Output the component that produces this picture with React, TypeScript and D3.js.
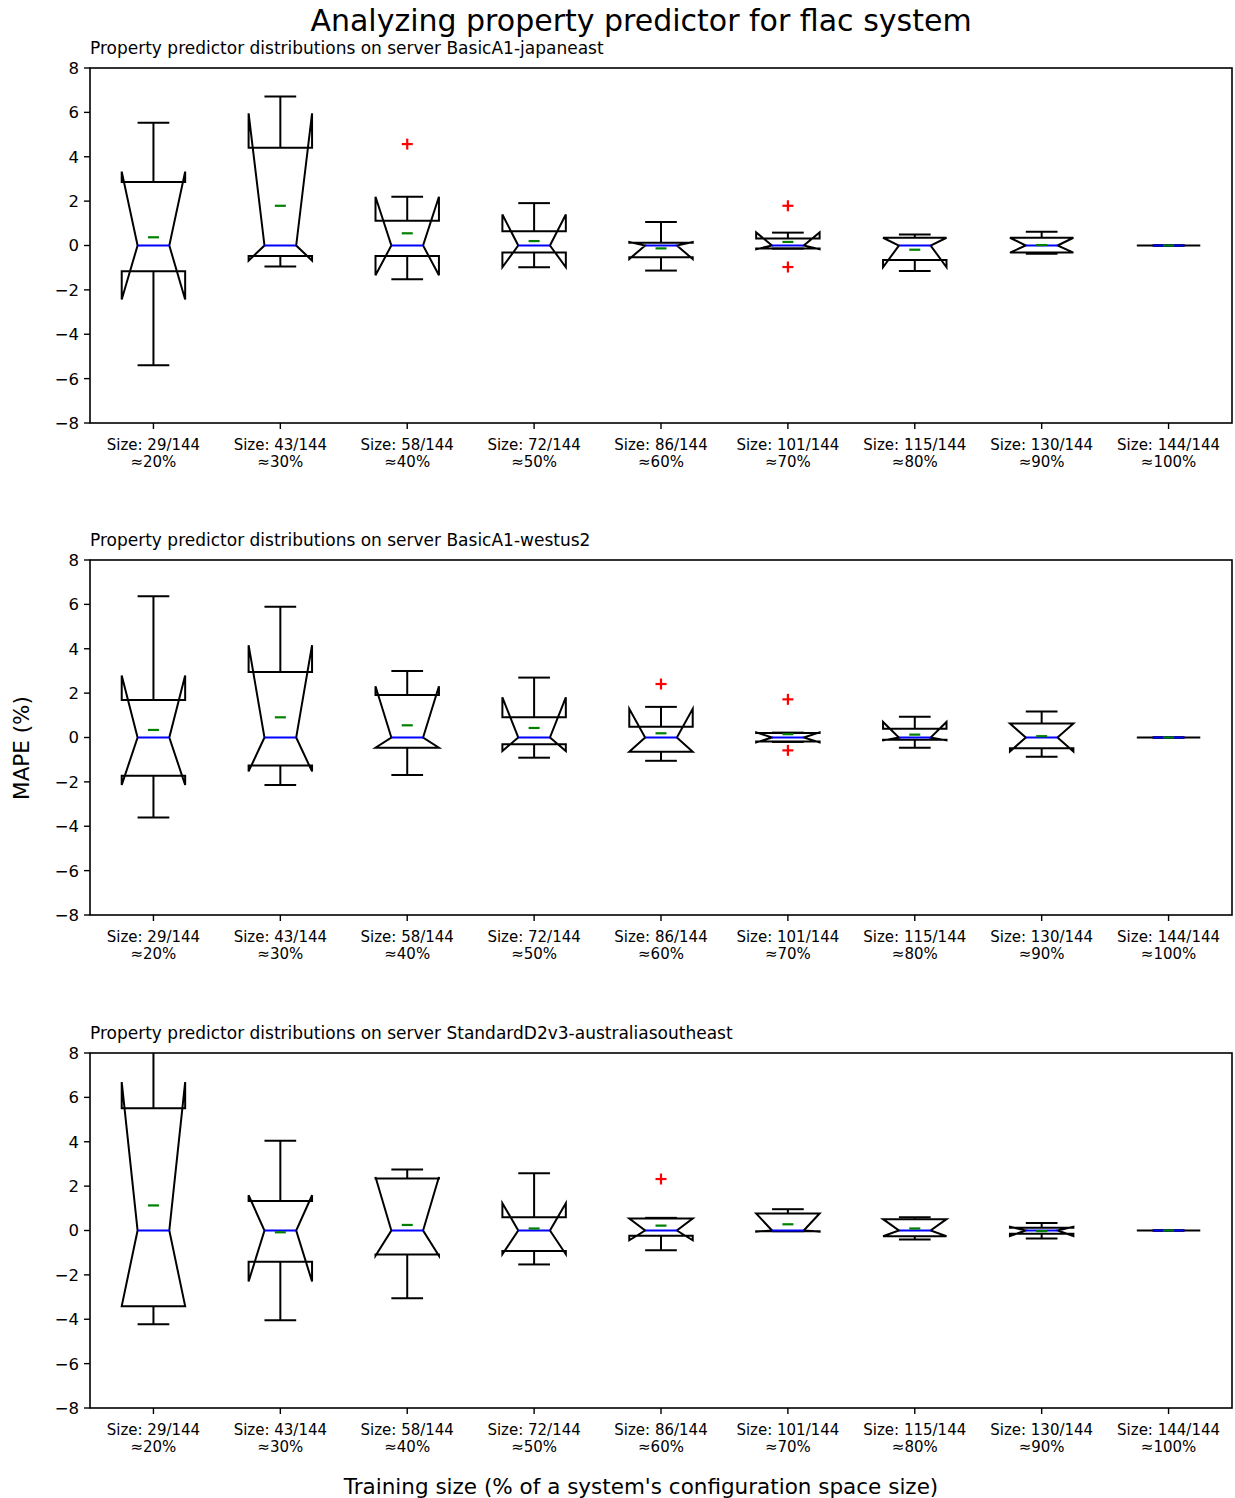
import React from 'react';
import * as d3 from 'd3';

const sizeLabels = ['Size: 29/144', 'Size: 43/144', 'Size: 58/144', 'Size: 72/144', 'Size: 86/144',
  'Size: 101/144', 'Size: 115/144', 'Size: 130/144', 'Size: 144/144'];
const pctLabels = ['≈20%', '≈30%', '≈40%', '≈50%', '≈60%', '≈70%', '≈80%', '≈90%', '≈100%'];
const yTicks = [-8, -6, -4, -2, 0, 2, 4, 6, 8];

const panelTitles = [
  'Property predictor distributions on server BasicA1-japaneast',
  'Property predictor distributions on server BasicA1-westus2',
  'Property predictor distributions on server StandardD2v3-australiasoutheast',
];

// each box: [whiskerLo, q1, notchLo, median, notchHi, q3, whiskerHi, mean]
const japaneastStats = [
  [-5.40, -1.16, -2.43, 0, 3.33, 2.86, 5.53, 0.37],
  [-0.95, -0.47, -0.68, 0, 5.96, 4.41, 6.71, 1.79],
  [-1.52, -0.47, -1.34, 0, 2.20, 1.12, 2.20, 0.55],
  [-0.98, -0.31, -0.98, 0, 1.40, 0.64, 1.91, 0.20],
  [-1.13, -0.53, -0.61, 0, 0.16, 0.12, 1.06, -0.13],
  [-0.14, -0.14, -0.17, 0, 0.59, 0.32, 0.58, 0.16],
  [-1.15, -0.65, -0.98, 0, 0.35, 0.35, 0.50, -0.19],
  [-0.37, -0.32, -0.32, 0, 0.35, 0.35, 0.62, 0.02],
  [0, 0, 0, 0, 0, 0, 0, 0],
];
const japaneastOutliers = [[], [], [4.57], [], [], [1.79, -0.97], [], [], []];

const westus2Stats = [
  [-3.60, -1.72, -2.14, 0, 2.79, 1.69, 6.37, 0.34],
  [-2.14, -1.26, -1.53, 0, 4.16, 2.95, 5.89, 0.91],
  [-1.69, -0.46, -0.46, 0, 2.31, 1.92, 3.00, 0.55],
  [-0.91, -0.30, -0.61, 0, 1.81, 0.91, 2.70, 0.43],
  [-1.05, -0.64, -0.64, 0, 1.29, 0.49, 1.38, 0.19],
  [-0.20, -0.18, -0.22, 0, 0.23, 0.20, 0.22, 0.15],
  [-0.46, -0.10, -0.13, 0, 0.70, 0.40, 0.94, 0.13],
  [-0.87, -0.48, -0.63, 0, 0.63, 0.63, 1.17, 0.06],
  [0, 0, 0, 0, 0, 0, 0, 0],
];
const westus2Outliers = [[], [], [], [], [2.41], [1.72, -0.58], [], [], []];

const australiaStats = [
  [-4.22, -3.41, -3.41, 0, 6.69, 5.51, 8.6, 1.13],
  [-4.04, -1.41, -2.30, 0, 1.59, 1.33, 4.04, -0.08],
  [-3.05, -1.08, -1.14, 0, 2.41, 2.34, 2.75, 0.25],
  [-1.53, -0.92, -1.07, 0, 1.23, 0.60, 2.58, 0.09],
  [-0.89, -0.24, -0.44, 0, 0.54, 0.54, 0.57, 0.22],
  [-0.03, -0.03, -0.05, 0, 0.77, 0.77, 0.96, 0.28],
  [-0.41, -0.26, -0.26, 0, 0.51, 0.51, 0.60, 0.09],
  [-0.36, -0.15, -0.25, 0, 0.17, 0.12, 0.34, -0.03],
  [0, 0, 0, 0, 0, 0, 0, 0],
];
const australiaOutliers = [[], [], [], [], [2.32], [], [], [], []];

const panelStats = [japaneastStats, westus2Stats, australiaStats];
const panelOutliers = [japaneastOutliers, westus2Outliers, australiaOutliers];

const W = 1235;
const H = 1498;
const left = 90;
const right = 1232;
const panelTops = [68, 560, 1053];
const panelH = 355;
const font = 'DejaVu Sans, sans-serif';
const lw = 2;

const x = d3.scaleLinear().domain([0.5, 9.5]).range([left, right]);
const boxW = 0.5;

function Panel({ idx }: { idx: number }) {
  const top = panelTops[idx];
  const y = d3.scaleLinear().domain([-8, 8]).range([top + panelH, top]);
  const stats = panelStats[idx];
  const outliers = panelOutliers[idx];
  const clipId = `clip-${idx}`;
  return (
    <g>
      <defs>
        <clipPath id={clipId}>
          <rect x={left} y={top} width={right - left} height={panelH} />
        </clipPath>
      </defs>
      <text x={left} y={top - 14} fontSize={17} fontFamily={font}>{panelTitles[idx]}</text>
      <g clipPath={`url(#${clipId})`}>
        {stats.map((s, i) => {
          const [wLo, q1, nLo, med, nHi, q3, wHi, mean] = s;
          const c = i + 1;
          const l = x(c - boxW / 2), r = x(c + boxW / 2);
          const cl = x(c - boxW / 4), cr = x(c + boxW / 4);
          const pts: [number, number][] = [
            [l, y(q1)], [r, y(q1)], [r, y(nLo)], [cr, y(med)], [r, y(nHi)], [r, y(q3)],
            [l, y(q3)], [l, y(nHi)], [cl, y(med)], [l, y(nLo)],
          ];
          const path = d3.line()(pts) + 'Z';
          const cx = x(c);
          return (
            <g key={i}>
              <line x1={cx} x2={cx} y1={y(q1)} y2={y(wLo)} stroke="#000" strokeWidth={lw} />
              <line x1={cx} x2={cx} y1={y(q3)} y2={y(wHi)} stroke="#000" strokeWidth={lw} />
              <line x1={cl} x2={cr} y1={y(wLo)} y2={y(wLo)} stroke="#000" strokeWidth={lw} />
              <line x1={cl} x2={cr} y1={y(wHi)} y2={y(wHi)} stroke="#000" strokeWidth={lw} />
              <path d={path} fill="none" stroke="#000" strokeWidth={lw} />
              <line x1={cl} x2={cr} y1={y(med)} y2={y(med)} stroke="#0000ff" strokeWidth={lw} />
              <line x1={cx - 5.5} x2={cx + 5.5} y1={y(mean)} y2={y(mean)} stroke="#008000" strokeWidth={2.2} />
              {outliers[i].map((o, j) => (
                <g key={j} stroke="#ff0000" strokeWidth={2.2}>
                  <line x1={cx - 5.5} x2={cx + 5.5} y1={y(o)} y2={y(o)} />
                  <line x1={cx} x2={cx} y1={y(o) - 5.5} y2={y(o) + 5.5} />
                </g>
              ))}
            </g>
          );
        })}
      </g>
      <rect x={left} y={top} width={right - left} height={panelH} fill="none" stroke="#000" strokeWidth={1.6} />
      {yTicks.map(t => (
        <g key={t}>
          <line x1={left - 6} x2={left} y1={y(t)} y2={y(t)} stroke="#000" strokeWidth={1.4} />
          <text x={left - 11} y={y(t)} dy="0.36em" textAnchor="end" fontSize={16.5} fontFamily={font}>
            {t < 0 ? `\u2212${-t}` : t}
          </text>
        </g>
      ))}
      {sizeLabels.map((lab, i) => (
        <g key={lab}>
          <line x1={x(i + 1)} x2={x(i + 1)} y1={top + panelH} y2={top + panelH + 6} stroke="#000" strokeWidth={1.4} />
          <text x={x(i + 1)} y={top + panelH + 27} textAnchor="middle" fontSize={15} fontFamily={font}>{lab}</text>
          <text x={x(i + 1)} y={top + panelH + 44} textAnchor="middle" fontSize={15} fontFamily={font}>{pctLabels[i]}</text>
        </g>
      ))}
    </g>
  );
}

export default function App() {
  return (
    <svg width={W} height={H} style={{ display: 'block', position: 'absolute', left: 0, top: 0, background: '#fff' }}>
      <rect width={W} height={H} fill="#fff" />
      <text x={641} y={31} textAnchor="middle" fontSize={30} fontFamily={font}>
        Analyzing property predictor for flac system
      </text>
      {[0, 1, 2].map(i => <Panel key={i} idx={i} />)}
      <text transform="translate(29,748) rotate(-90)" textAnchor="middle" fontSize={21.5} fontFamily={font}>MAPE (%)</text>
      <text x={641} y={1494} textAnchor="middle" fontSize={21.5} fontFamily={font}>
        Training size (% of a system's configuration space size)
      </text>
    </svg>
  );
}
